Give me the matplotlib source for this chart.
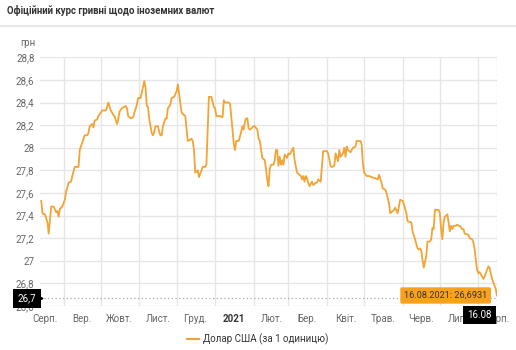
import datetime as dt
import matplotlib.pyplot as plt
from matplotlib.transforms import blended_transform_factory

plt.rcParams['font.family'] = ['Roboto', 'DejaVu Sans']

# NBU official UAH/USD rate, days counted from 14.08.2020
start = dt.date(2020, 8, 14)
days = [0, 1, 3, 5, 6, 8, 10, 12, 13, 14, 15, 17, 19, 20, 22, 24, 25, 27, 30, 31,
        35, 37, 38, 39, 41, 42, 43, 45, 46, 48, 49, 52, 53, 54, 56, 58, 59, 61, 62,
        63, 65, 68, 69, 70, 72, 74, 75, 77, 78, 80, 82, 83, 84, 85, 86, 87, 89, 90,
        91, 92, 94, 95, 96, 97, 98, 100, 101, 102, 104, 105, 107, 109, 110, 111, 113,
        114, 116, 117, 118, 120, 121, 122, 123, 124, 126, 127, 130, 132, 133, 134, 135,
        137, 139, 140, 141, 144, 146, 147, 148, 151, 152, 153, 154, 155, 156, 157, 159,
        161, 162, 163, 164, 165, 166, 167, 168, 171, 172, 174, 175, 176, 178, 180, 181,
        182, 183, 184, 185, 187, 188, 189, 190, 191, 192, 193, 194, 195, 196, 198, 199,
        200, 202, 203, 204, 206, 208, 209, 210, 211, 212, 213, 214, 215, 216, 218, 219,
        221, 222, 223, 225, 226, 227, 230, 231, 233, 234, 236, 237, 239, 240, 241, 243,
        244, 245, 246, 247, 249, 250, 251, 253, 254, 257, 258, 259, 260, 262, 264, 266,
        269, 271, 272, 274, 275, 277, 278, 280, 281, 282, 284, 285, 287, 288, 289, 291,
        292, 294, 295, 298, 299, 301, 303, 304, 305, 306, 307, 308, 310, 311, 313, 314,
        315, 316, 317, 320, 321, 322, 323, 324, 325, 327, 328, 329, 330, 331, 332, 334,
        335, 336, 337, 339, 340, 341, 344, 345, 347, 348, 349, 350, 351, 352, 353, 355,
        356, 357, 359, 360, 361, 362, 363, 364, 365, 366, 367]
rates = [27.53, 27.42, 27.41, 27.34, 27.24, 27.48, 27.48, 27.43, 27.44, 27.39, 27.46,
         27.48, 27.54, 27.61, 27.69, 27.70, 27.75, 27.83, 27.83, 27.98,
         28.11, 28.11, 28.13, 28.19, 28.21, 28.18, 28.24, 28.25, 28.28, 28.31, 28.33,
         28.33, 28.36, 28.40, 28.33, 28.29, 28.28, 28.21, 28.25,
         28.32, 28.35, 28.37, 28.35, 28.28, 28.26, 28.27, 28.31, 28.38, 28.44, 28.44,
         28.54, 28.59, 28.53, 28.37, 28.36, 28.25, 28.13, 28.11,
         28.14, 28.19, 28.19, 28.14, 28.11, 28.11, 28.19, 28.26, 28.26, 28.35, 28.38,
         28.44, 28.45, 28.50, 28.56, 28.48, 28.31,
         28.30, 28.28, 28.17, 28.06, 28.07, 28.08, 28.06, 27.98, 27.78, 27.80, 27.74,
         27.83, 27.83, 27.85, 28.16, 28.45,
         28.45, 28.36, 28.35, 28.28, 28.28, 28.27, 28.42, 28.40, 28.40, 28.39, 28.28,
         28.16, 28.04, 27.98, 28.06, 28.06,
         28.14, 28.19, 28.16, 28.23, 28.26, 28.26, 28.17, 28.16, 28.19, 28.19, 28.16,
         28.08, 28.06, 27.91, 27.89, 27.81,
         27.72, 27.66, 27.81, 27.85, 27.85, 27.89, 27.98, 27.98, 27.84, 27.92, 27.85,
         27.89, 27.85, 27.94, 27.91, 27.95,
         27.94, 27.98, 28.00, 27.89, 27.78, 27.76, 27.75, 27.72, 27.75, 27.70, 27.75,
         27.73, 27.69, 27.66, 27.70, 27.67,
         27.69, 27.69, 27.72, 27.70, 27.84, 27.97, 27.97, 27.95, 27.84, 27.83, 27.84,
         27.95, 27.88, 27.98, 27.92, 27.95,
         28.00, 27.92, 28.01, 27.98, 27.96, 27.98, 28.00, 28.01, 28.06, 28.06, 28.03,
         27.86, 27.78, 27.75, 27.75, 27.74,
         27.73, 27.72, 27.76, 27.69, 27.64, 27.63, 27.60, 27.51, 27.42, 27.43, 27.45,
         27.47, 27.42, 27.48, 27.54, 27.53,
         27.50, 27.42, 27.35, 27.34, 27.26, 27.19, 27.11, 27.10, 27.11, 27.09, 27.01,
         26.94, 27.04, 27.17, 27.17, 27.19,
         27.29, 27.28, 27.45, 27.45, 27.42, 27.28, 27.19, 27.34, 27.39, 27.41, 27.34,
         27.26, 27.31, 27.28, 27.31, 27.31,
         27.32, 27.31, 27.31, 27.28, 27.28, 27.24, 27.23, 27.20, 27.19, 27.16, 27.10,
         27.00, 26.92, 26.89, 26.90, 26.86,
         26.84, 26.86, 26.92, 26.95, 26.94, 26.89, 26.84, 26.81, 26.78, 26.75, 26.6931]
dates = [start + dt.timedelta(days=d) for d in days]

month_starts = [dt.date(2020, m, 1) for m in range(9, 13)] + \
               [dt.date(2021, m, 1) for m in range(1, 9)]
month_labels = ['Серп.', 'Вер.', 'Жовт.', 'Лист.', 'Груд.', '2021', 'Лют.', 'Бер.',
                'Квіт.', 'Трав.', 'Черв.', 'Лип.', 'Серп.']
label_dates = [dt.date(2020, 8, 17)] + [dt.date(2020, m, 16) for m in range(9, 13)] + \
              [dt.date(2021, m, 16) for m in range(1, 9)]
y_ticks = [26.6, 26.8, 27.0, 27.2, 27.4, 27.6, 27.8, 28.0, 28.2, 28.4, 28.6, 28.8]
cross_y = 26.667

line_color = '#F2A434'
grid_color = '#E6E6E6'
text_color = '#666666'

W, H = 516, 350
fig = plt.figure(figsize=(W / 100, H / 100), dpi=100)
fig.patch.set_facecolor('white')

fig.text(7 / W, 1 - 10 / H, 'Офіційний курс гривні щодо іноземних валют',
         fontsize=6.9, fontweight='bold', color='#333333', va='center', ha='left')
fig.add_artist(plt.Line2D([0, 1], [1 - 26 / H, 1 - 26 / H], color='#E3E3E3', lw=1.2))
fig.text(20 / W, 1 - 43 / H, 'грн', fontsize=7, color=text_color, va='center')

ax = fig.add_axes([40 / W, 44 / H, 457 / W, 248.7 / H])
ax.plot(dates, rates, color=line_color, lw=1.3, zorder=3)

ax.set_ylim(26.6, 28.8)
ax.set_xlim(start - dt.timedelta(days=1.5), dates[-1])
ax.set_yticks(y_ticks)
ax.set_yticklabels([f'{v:.1f}'.replace('.0', '').replace('.', ',') for v in y_ticks])
ax.set_xticks(month_starts)
ax.set_xticklabels([])
ax.set_xticks(label_dates, minor=True)
ax.set_xticklabels(month_labels, minor=True)
ax.tick_params(axis='both', which='both', length=0, colors=text_color, labelsize=7)
ax.tick_params(axis='y', pad=4)
ax.tick_params(axis='x', which='minor', pad=6)
ax.get_xticklabels(minor=True)[5].set_fontweight('bold')
ax.get_xticklabels(minor=True)[5].set_color('#333333')
ax.grid(True, which='major', color=grid_color, lw=1)
for s in ax.spines.values():
    s.set_visible(False)

# crosshair on the last point
ax.axhline(cross_y, color='#AAAAAA', lw=0.9, ls=(0, (1, 2)), zorder=2)
ax.axvline(dates[-1], color='#C8C8C8', lw=0.9, ls=(0, (2, 2)), zorder=2)

ty = blended_transform_factory(ax.transAxes, ax.transData)
ax.text(-0.008, cross_y, '26,7', transform=ty, ha='right', va='center', fontsize=7,
        color='white', zorder=6, clip_on=False,
        bbox=dict(boxstyle='square,pad=0.5', fc='black', ec='none'))
ax.plot([0.0], [cross_y], marker='>', ms=3.5, color='black', transform=ty,
        clip_on=False, zorder=6)

ax.annotate('16.08', xy=(dates[-1], 0), xycoords=('data', 'axes fraction'),
            xytext=(-4, -6.5), textcoords='offset points', ha='right', va='center',
            fontsize=7, color='white', zorder=7, annotation_clip=False,
            bbox=dict(boxstyle='square,pad=0.45', fc='black', ec='none'))

ax.annotate(f'16.08.2021: {rates[-1]:.4f}'.replace('.6931', ',6931'),
            xy=(dates[-1], rates[-1]), xytext=(-7, 0), textcoords='offset points',
            ha='right', va='center', fontsize=6.6, color='#333333', zorder=8,
            annotation_clip=False,
            bbox=dict(boxstyle='round,pad=0.4,rounding_size=0.15', fc='#F7A11D', ec='none'))

# legend
lx, ly = 187 / W, 1 - 339 / H
fig.add_artist(plt.Line2D([lx, lx + 12 / W], [ly, ly], color=line_color, lw=1.5))
fig.text(lx + 16 / W, ly, 'Долар США (за 1 одиницю)', fontsize=7, color='#333333',
         va='center', ha='left')

fig.savefig('out.png', dpi=100)
